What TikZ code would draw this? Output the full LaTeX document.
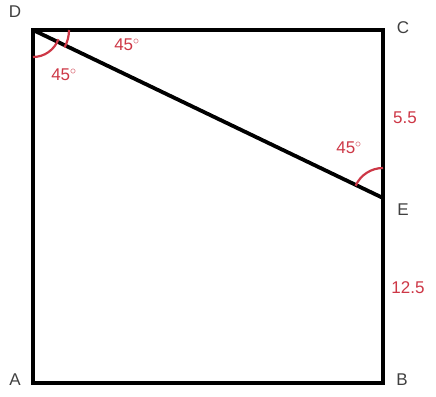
\documentclass[tikz,border=0pt]{standalone}
\usepackage{fontspec}
\setmainfont{Liberation Sans}
\usetikzlibrary{positioning}
\definecolor{angred}{RGB}{205,55,70}

\begin{document}
\begin{tikzpicture}[x=1pt, y=1pt, font=\fontsize{17}{19}\selectfont,
  side/.style={draw, line width=3.8pt, line cap=rect},
  ang/.style={draw=angred, line width=2.2pt},
  pt/.style={inner sep=0pt, text=black!75},
  val/.style={inner sep=0pt, text=angred}]
\useasboundingbox (0,0) rectangle (436,396);
\coordinate (A) at (33,13);
\coordinate (B) at (383,13);
\coordinate (C) at (383,366);
\coordinate (D) at (33,366);
\coordinate (E) at (383,198);
% square and diagonal
\draw[side] (A) -- (B) -- (C) -- (D) -- cycle;
\draw[side, line cap=butt] (D) -- (E);
% angle marks
\draw[ang] ([shift={(0:36)}]D) arc[start angle=0, end angle=-29, radius=36];
\draw[ang] ([shift={(-20:27)}]D) arc[start angle=-20, end angle=-90, radius=27];
\draw[ang] ([shift={(90:30)}]E) arc[start angle=90, end angle=156, radius=30];
% vertex labels
\node[pt] (lD) at (15,384) {D};
\node[pt] (lC) at (403,368) {C};
\node[pt] (lE) at (403,186) {E};
\node[pt] (lA) at (15,16) {A};
\node[pt] (lB) at (402,16) {B};
% values
\node[val] (a1) at (127,351) {45$^{\circ}$};
\node[val] (a2) at (64,321) {45$^{\circ}$};
\node[val] (a3) at (349,248) {45$^{\circ}$};
\node[val] (s1) at (405,278) {5.5};
\node[val] (s2) at (408,108) {12.5};
\end{tikzpicture}
\end{document}
